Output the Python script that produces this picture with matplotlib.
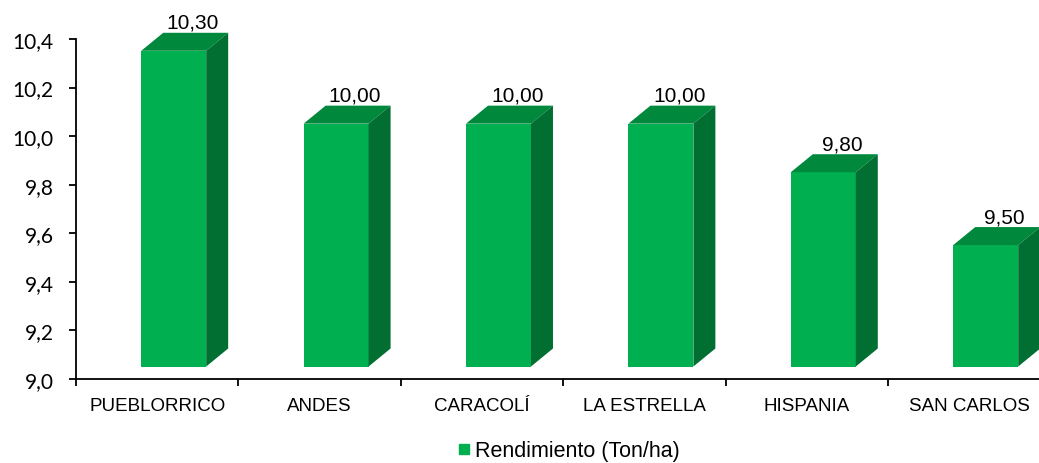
import matplotlib
matplotlib.use('Agg')
import matplotlib.pyplot as plt
import matplotlib.transforms as mtransforms
from matplotlib.lines import Line2D
from matplotlib.patches import Polygon
from matplotlib.ticker import FixedLocator, FuncFormatter
import numpy as np

# data
municipios = ['PUEBLORRICO', 'ANDES', 'CARACOLÍ', 'LA ESTRELLA', 'HISPANIA', 'SAN CARLOS']
rendimiento = [10.30, 10.00, 10.00, 10.00, 9.80, 9.50]
serie_label = 'Rendimiento (Ton/ha)'
y_ticks = [9.0, 9.2, 9.4, 9.6, 9.8, 10.0, 10.2, 10.4]

FRONT = '#00B050'
TOP = '#00893D'
SIDE = '#006F31'


def main() -> None:
    fig = plt.figure(figsize=(10.39, 4.64), dpi=100)
    ax = fig.add_axes([76 / 1039, 84 / 464, 974.4 / 1039, 340 / 464])

    base = y_ticks[0]
    ax.set_xlim(-0.5, len(municipios) - 0.5)
    ax.set_ylim(base, y_ticks[-1])

    # pseudo-3D geometry (pixels)
    lift_px = 12.5
    depth_dx, depth_dy = 22, 18
    bar_shift = 16.5 / 162.4
    width = 0.40

    lift = mtransforms.ScaledTranslation(0, lift_px / 100, fig.dpi_scale_trans)
    trans = ax.transData + lift

    x_per_px = (ax.get_xlim()[1] - ax.get_xlim()[0]) / 974.4
    y_per_px = (ax.get_ylim()[1] - ax.get_ylim()[0]) / 340
    ddx, ddy = depth_dx * x_per_px, depth_dy * y_per_px

    x = np.arange(len(municipios))
    centers = x + bar_shift
    vals = np.array(rendimiento)

    ax.bar(centers, vals - base, bottom=base, width=width, color=FRONT,
           transform=trans, clip_on=False, zorder=3, linewidth=0)

    for cx, v in zip(centers, vals):
        x0, x1 = cx - width / 2, cx + width / 2
        top = Polygon([(x0, v), (x1, v), (x1 + ddx, v + ddy), (x0 + ddx, v + ddy)],
                      closed=True, facecolor=TOP, edgecolor='none',
                      transform=trans, clip_on=False, zorder=3)
        side = Polygon([(x1, base), (x1, v), (x1 + ddx, v + ddy), (x1 + ddx, base + ddy)],
                       closed=True, facecolor=SIDE, edgecolor='none',
                       transform=trans, clip_on=False, zorder=3)
        ax.add_patch(top)
        ax.add_patch(side)
        ax.annotate(f'{v:.2f}'.replace('.', ','), xy=(cx, v), xytext=(19, 41),
                    textcoords='offset pixels', ha='center', va='center',
                    fontsize=15, family='Liberation Sans', color='#000000',
                    annotation_clip=False)

    # axes styling
    for s in ['top', 'right']:
        ax.spines[s].set_visible(False)
    for s in ['left', 'bottom']:
        ax.spines[s].set_linewidth(1.3)
        ax.spines[s].set_color('#000000')

    ax.yaxis.set_major_locator(FixedLocator(y_ticks))
    ax.yaxis.set_major_formatter(FuncFormatter(lambda v, _: f'{v:.1f}'.replace('.', ',')))
    ax.tick_params(axis='y', direction='out', length=5, width=1.3, pad=11, labelsize=15)
    for lab in ax.get_yticklabels():
        lab.set_family('Lato')

    ax.set_xticks(x)
    ax.set_xticklabels(municipios, fontsize=13.5, family='Liberation Sans')
    ax.tick_params(axis='x', which='major', length=0, pad=13)
    ax.set_xticks(np.arange(len(municipios) + 1) - 0.5, minor=True)
    ax.tick_params(axis='x', which='minor', direction='out', length=5, width=1.3)

    handle = Line2D([], [], marker='s', linestyle='none', markersize=7.5,
                    markerfacecolor=FRONT, markeredgecolor=FRONT)
    fig.legend([handle], [serie_label], loc='center', bbox_to_anchor=(569 / 1039, 12 / 464),
               frameon=False, handlelength=0.6, handletextpad=0.2,
               prop={'family': 'Liberation Sans', 'size': 15.5})

    fig.savefig('out.png', dpi=100)
    plt.close(fig)


if __name__ == '__main__':
    main()
